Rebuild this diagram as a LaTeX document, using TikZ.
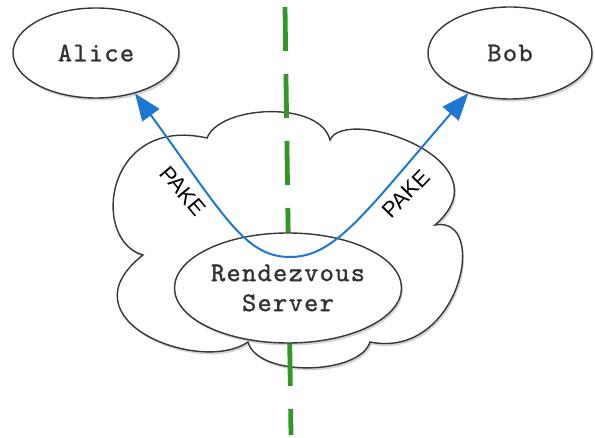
\documentclass[tikz,border=0pt]{standalone}
\usepackage{fontspec}
\newfontfamily\sansf{Liberation Sans}
\newfontfamily\monof{lmmono10-regular.otf}[LetterSpace=5,FakeBold=1.2]
\usetikzlibrary{shapes.geometric,arrows.meta,shadows}
\definecolor{pakeblue}{RGB}{30,120,210}
\definecolor{divgreen}{RGB}{50,150,40}
\definecolor{edgegray}{RGB}{55,55,55}
\begin{document}
\begin{tikzpicture}[x=1pt,y=-1pt,
  softshadow/.style={drop shadow={opacity=0.35, shadow xshift=1.5pt, shadow yshift=-2.5pt}},
  party/.style={ellipse, draw=edgegray, line width=1.4pt, fill=white, inner sep=0pt,
    font=\monof\fontsize{27}{30}\selectfont, text=black!80, softshadow},
  cloudshape/.style={draw=edgegray, line width=1.4pt, fill=white, softshadow},
  divider/.style={draw=divgreen, line width=4.8pt, dash pattern=on 44pt off 23pt},
  pakeline/.style={draw=pakeblue, line width=2pt, -{Triangle[length=27pt,width=21pt]}},
  pakelabel/.style={font=\sansf\fontsize{22}{24}\selectfont, inner sep=0pt}
]
\useasboundingbox (0,0) rectangle (595,438);

% cloud
\path[cloudshape] (207,138)
  .. controls (220,105) and (320,100) .. (330,140)
  .. controls (345,105) and (510,160) .. (435,225)
  .. controls (490,215) and (460,360) .. (370,342)
  .. controls (360,375) and (258,378) .. (248,342)
  .. controls (200,375) and (60,320) .. (143,255)
  .. controls (90,240) and (105,115) .. (207,138) -- cycle;

% dividing line
\coordinate (divtop) at (285,7);
\coordinate (divbot) at (291,435);
\draw[divider] (divtop) -- (divbot);

% parties
\node[party, minimum width=166pt, minimum height=90pt] (alice) at (96,53) {Alice};
\node[party, minimum width=164pt, minimum height=92pt] (bob) at (510,53) {Bob};
\node[party, minimum width=227pt, minimum height=110pt, align=center] (server) at (288,288) {Rendezvous\\Server};

% PAKE paths
\coordinate (dip) at (290,257);
\draw[pakeline] (dip) .. controls (245,257) and (225,217) .. (alice.-46);
\draw[pakeline] (dip) .. controls (335,257) and (364,214) .. (bob.-136);

\node[pakelabel, rotate=-50] (pakeL) at (183,191) {PAKE};
\node[pakelabel, rotate=46] (pakeR) at (406,194) {PAKE};
\end{tikzpicture}
\end{document}
